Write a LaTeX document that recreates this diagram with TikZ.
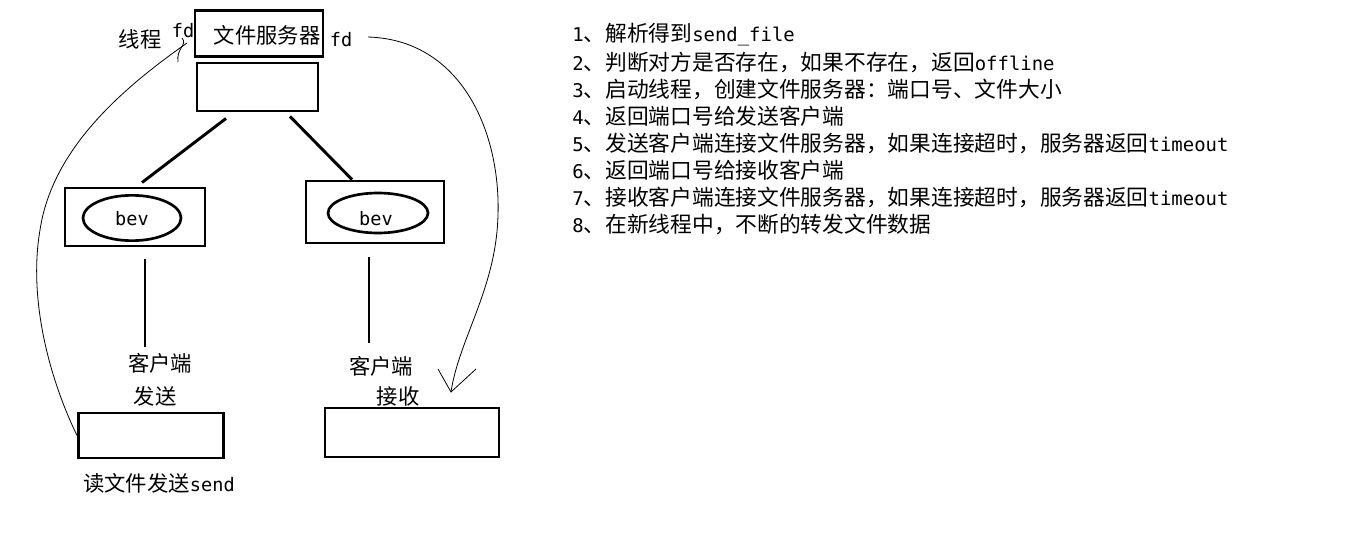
\documentclass[tikz,border=0pt]{standalone}
\usepackage{fontspec}
\setmainfont{Noto Sans CJK SC}
\newfontfamily\latmono[Scale=0.87]{DejaVu Sans Mono}
\newcommand{\lt}[1]{{\latmono #1}}
\usetikzlibrary{shapes.geometric}
\begin{document}
\begin{tikzpicture}[x=0.75pt,y=-0.75pt,
  box/.style={draw,line width=2.2pt,inner sep=0pt},
  bevell/.style={draw,ellipse,line width=2pt,inner sep=0pt},
  thick line/.style={line width=2.2pt},
  hand/.style={line width=0.6pt},
  lbl/.style={inner sep=0pt,font=\fontsize{16pt}{19pt}\selectfont},
  item/.style={anchor=west,inner sep=0pt,font=\fontsize{16.3pt}{19pt}\selectfont}]
\useasboundingbox (0,0) rectangle (1360,542);
% boxes
\node[box,minimum width=96pt,minimum height=35pt] (srv) at (259,33.5) {};
\node[lbl] (srvt) at (267,35) {文件服务器};
\node[box,minimum width=90.75pt,minimum height=36pt] (box2) at (257.5,87) {};
\node[box,minimum width=105pt,minimum height=43.5pt] (bevL) at (135,217) {};
\node[bevell,minimum width=73.5pt,minimum height=34pt] (eL) at (132,218) {};
\node[lbl] at (132,219) {\lt{bev}};
\node[box,minimum width=103.5pt,minimum height=46.5pt] (bevR) at (375,212) {};
\node[bevell,minimum width=75pt,minimum height=30pt] (eR) at (378,213) {};
\node[lbl] at (376,219) {\lt{bev}};
\node[box,minimum width=108.75pt,minimum height=33.75pt] (blL) at (151,435.5) {};
\node[box,minimum width=130.5pt,minimum height=36.75pt] (blR) at (412,432.5) {};
% labels
\node[lbl] (thr) at (140,39) {线程};
\node[lbl] (fdL) at (183,31) {\lt{fd}};
\node[lbl] (fdR) at (341,40) {\lt{fd}};
\node[lbl] (c1) at (160,363) {客户端};
\node[lbl] (s1) at (155,396) {发送};
\node[lbl] (c2) at (381,366) {客户端};
\node[lbl] (r2) at (398,396) {接收};
\node[lbl] (rd) at (159,483) {读文件发送\lt{send}};
% tree connectors
\draw[thick line] ([shift={(-31.5,6)}]box2.south) -- ([shift={(7,-4)}]bevL.north);
\draw[thick line] ([shift={(32.5,4)}]box2.south) -- ([shift={(-23,0)}]bevR.north);
\coordinate (vL) at (145,347);
\coordinate (vR) at (369,343);
\draw[thick line] ([shift={(10,12)}]bevL.south) -- (vL);
\draw[thick line] ([shift={(-6,13)}]bevR.south) -- (vR);
% hand-drawn curves
\coordinate (hL) at (187,43);
\draw[hand] (blL.west) .. controls (50,380) and (28,300) .. (40,230)
   .. controls (52,150) and (120,90) .. (hL);
\draw[hand] (182,38) .. controls (188,45) and (176,48) .. (178,62);
\coordinate (sR) at (368,37);
\coordinate (tipR) at (451,392);
\draw[hand] (sR) .. controls (470,40) and (508,150) .. (496,240)
   .. controls (488,300) and (458,345) .. (tipR);
\draw[hand] (438,369) -- (tipR) -- (476,369);
% list
\node[item] at (572,35) {\lt{1}、解析得到\lt{send\_file}};
\node[item] at (572,62) {\lt{2}、判断对方是否存在，如果不存在，返回\lt{offline}};
\node[item] at (572,89) {\lt{3}、启动线程，创建文件服务器：端口号、文件大小};
\node[item] at (572,116) {\lt{4}、返回端口号给发送客户端};
\node[item] at (572,143) {\lt{5}、发送客户端连接文件服务器，如果连接超时，服务器返回\lt{timeout}};
\node[item] at (572,170) {\lt{6}、返回端口号给接收客户端};
\node[item] at (572,197) {\lt{7}、接收客户端连接文件服务器，如果连接超时，服务器返回\lt{timeout}};
\node[item] at (572,224) {\lt{8}、在新线程中，不断的转发文件数据};
\end{tikzpicture}
\end{document}
